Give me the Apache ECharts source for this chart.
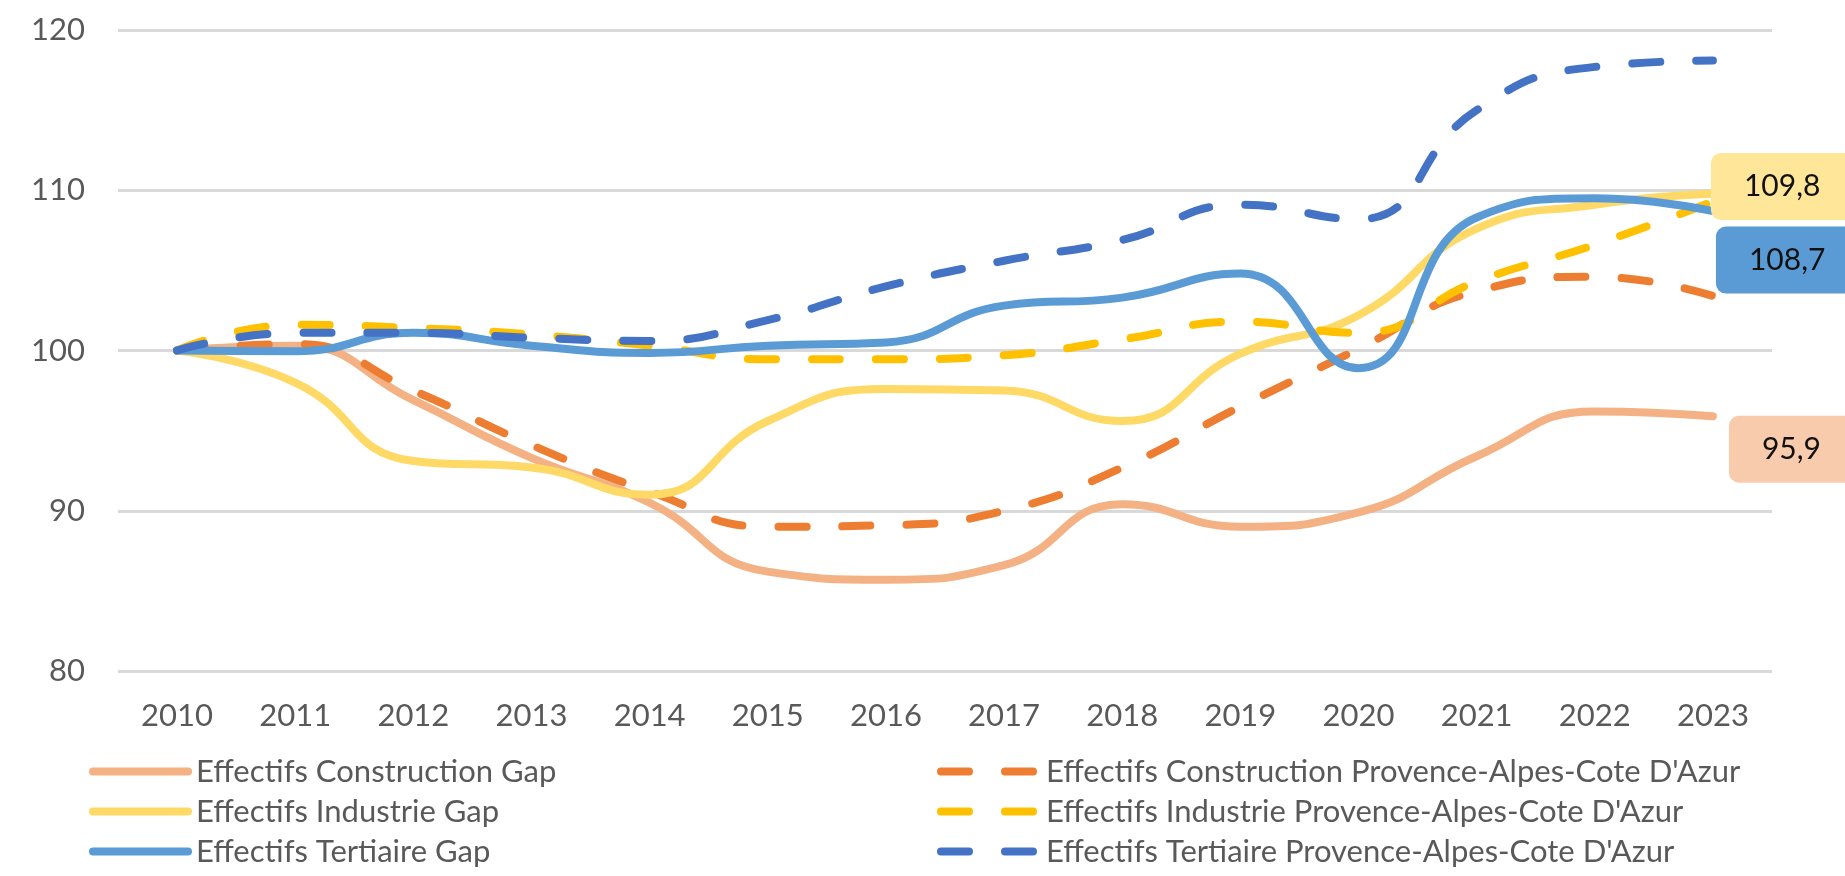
<!DOCTYPE html>
<html>
<head>
<meta charset="utf-8">
<script src="https://cdn.jsdelivr.net/npm/echarts@6/dist/echarts.min.js"></script>
<style>
html,body{margin:0;padding:0;background:#ffffff;}
#chart{width:1845px;height:876px;}
</style>
</head>
<body>
<div id="chart"></div>
<script>
const years = ['2010','2011','2012','2013','2014','2015','2016','2017','2018','2019','2020','2021','2022','2023'];
const constructionGap  = [100, 100.3, 96.9, 93.3, 90.5, 86.2, 85.7, 86.6, 90.4, 89.0, 89.9, 93.4, 96.2, 95.9];
const constructionPaca = [100, 100.4, 97.5, 94.1, 91.2, 89.0, 89.1, 90.0, 92.7, 96.5, 100.1, 103.7, 104.6, 103.4];
const industrieGap     = [100, 98.0, 93.1, 92.7, 91.0, 95.6, 97.6, 97.5, 95.6, 99.8, 102.2, 107.6, 109.1, 109.8];
const industriePaca    = [100, 101.6, 101.4, 101.0, 100.3, 99.45, 99.45, 99.7, 100.7, 101.8, 101.1, 104.3, 106.6, 109.3];
const tertiaireGap     = [100, 99.95, 101.1, 100.3, 99.85, 100.3, 100.5, 102.8, 103.3, 104.8, 98.9, 108.3, 109.5, 108.7];
const tertiairePaca    = [100, 101.1, 101.1, 100.8, 100.6, 101.9, 104.0, 105.6, 106.9, 109.1, 108.2, 115.0, 117.7, 118.1];
const yTicks = [80, 90, 100, 110, 120];

const names = {
  cg: 'Effectifs Construction Gap',
  cp: "Effectifs Construction Provence-Alpes-Cote D'Azur",
  ig: 'Effectifs Industrie Gap',
  ip: "Effectifs Industrie Provence-Alpes-Cote D'Azur",
  tg: 'Effectifs Tertiaire Gap',
  tp: "Effectifs Tertiaire Provence-Alpes-Cote D'Azur"
};

const FONT = 'Lato';
const fmt = v => String(v).replace('.', ',');
const last = a => a[a.length - 1];
const DASH = [28, 36];

function endLabel(value, bg, dx, dy) {
  return {
    show: true,
    formatter: () => fmt(value),
    distance: 0,
    offset: [dx, dy],
    backgroundColor: bg,
    borderRadius: 10,
    padding: [20, 40, 17, 33],
    fontFamily: FONT,
    fontSize: 30,
    lineHeight: 30,
    color: '#111111'
  };
}

function line(name, data, color, dashed, extra) {
  return Object.assign({
    name: name,
    type: 'line',
    data: data,
    smooth: true,
    symbol: 'none',
    color: color,
    lineStyle: { color: color, width: 8, type: dashed ? DASH : 'solid', cap: 'round', join: 'round' },
    emphasis: { disabled: true }
  }, extra || {});
}

const chart = echarts.init(document.getElementById('chart'), null, { renderer: 'canvas' });

const legendCommon = {
  orient: 'vertical',
  top: 756,
  padding: 0,
  itemGap: 9,
  itemHeight: 10,
  selectedMode: false,
  lineStyle: { width: 8, cap: 'round' },
  itemStyle: { color: 'rgba(0,0,0,0)', borderColor: 'rgba(0,0,0,0)', borderWidth: 0, opacity: 0 },
  textStyle: { fontFamily: FONT, fontSize: 31, lineHeight: 31, color: '#595959' }
};

chart.setOption({
  animation: false,
  backgroundColor: '#ffffff',
  grid: { left: 118, right: 73, top: 30, bottom: 205, containLabel: false, outerBoundsMode: 'none' },
  legend: [
    Object.assign({}, legendCommon, {
      left: 89, itemWidth: 95,
      data: [names.cg, names.ig, names.tg],
      textStyle: Object.assign({}, legendCommon.textStyle, { padding: [0, 0, 0, 3] })
    }),
    Object.assign({}, legendCommon, {
      left: 937, itemWidth: 94,
      data: [names.cp, names.ip, names.tp],
      textStyle: Object.assign({}, legendCommon.textStyle, { padding: [0, 0, 0, 6] })
    })
  ],
  xAxis: {
    type: 'category',
    data: years,
    boundaryGap: true,
    axisLine: { show: false },
    axisTick: { show: false },
    axisLabel: { margin: 29, fontFamily: FONT, fontSize: 31, color: '#595959' },
    splitLine: { show: false }
  },
  yAxis: {
    type: 'value',
    min: yTicks[0],
    max: yTicks[yTicks.length - 1],
    interval: 10,
    axisLine: { show: false },
    axisTick: { show: false },
    axisLabel: { margin: 33, fontFamily: FONT, fontSize: 31, color: '#595959' },
    splitLine: { lineStyle: { color: '#d9d9d9', width: 3 } }
  },
  series: [
    line(names.cg, constructionGap, '#F4B183', false, { endLabel: endLabel(last(constructionGap), '#F8CBAD', 16, 33) }),
    line(names.cp, constructionPaca, '#ED7D31', true),
    line(names.ig, industrieGap, '#FFD966', false, { endLabel: endLabel(last(industrieGap), '#FFE699', -2, -7) }),
    line(names.ip, industriePaca, '#FFC000', true),
    line(names.tg, tertiaireGap, '#5B9BD5', false, { endLabel: endLabel(last(tertiaireGap), '#5B9BD5', 3, 49) }),
    line(names.tp, tertiairePaca, '#4472C4', true)
  ]
});
</script>
</body>
</html>
